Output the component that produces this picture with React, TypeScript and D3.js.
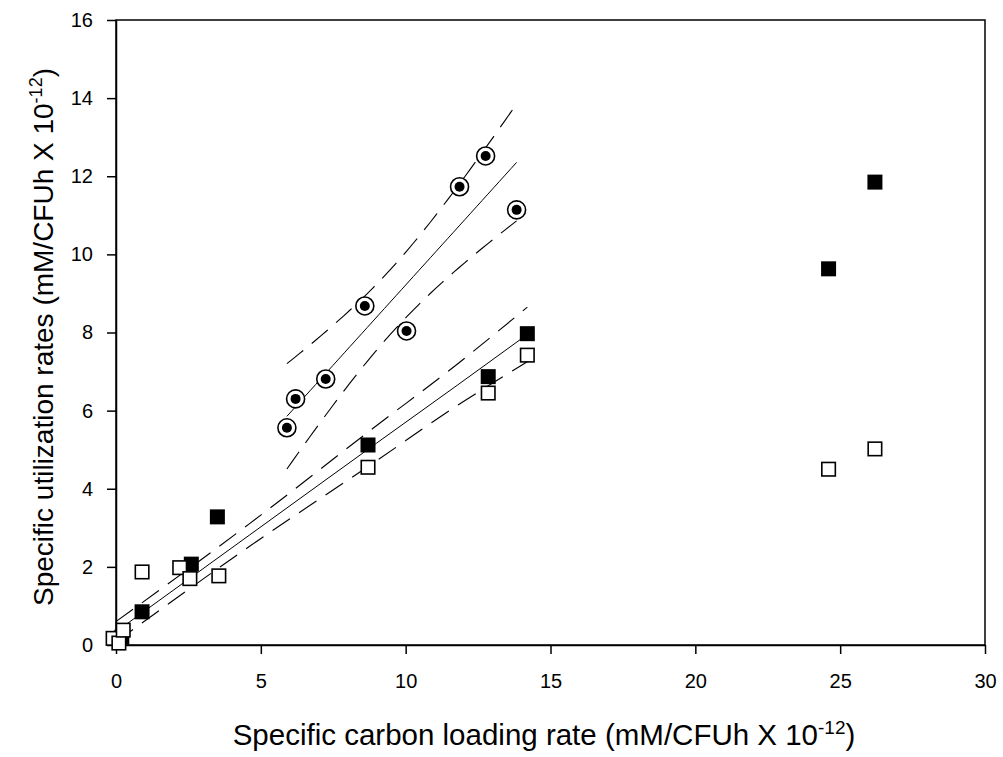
import React, { useEffect, useRef } from "react";
import * as d3 from "d3";

// circles (dot in ring)
const circleX = [5.9, 6.2, 7.24, 8.59, 10.03, 11.86, 12.76, 13.83];
const circleY = [5.56, 6.3, 6.81, 8.68, 8.04, 11.73, 12.52, 11.14];
// filled squares
const filledX = [0.2, 0.9, 2.6, 3.5, 8.7, 12.85, 14.2, 24.6, 26.2];
const filledY = [0.2, 0.85, 2.07, 3.28, 5.12, 6.87, 7.97, 9.63, 11.85];
// open squares
const openX = [-0.1, 0.1, 0.25, 0.9, 2.2, 2.55, 3.55, 8.7, 12.85, 14.2, 24.6, 26.2];
const openY = [0.17, 0.05, 0.38, 1.87, 1.98, 1.7, 1.77, 4.55, 6.45, 7.42, 4.5, 5.02];

// square regression and 95% band
const squareBandX = [0, 4.6, 9, 11.8, 14.2];
const squareFit = [0.34, 2.81, 5.17, 6.66, 7.95];
const squareUpper = [0.6, 3.1, 5.62, 7.2, 8.65];
const squareLower = [0.08, 2.52, 4.72, 6.14, 7.25];

const xTicks = [0, 5, 10, 15, 20, 25, 30];
const yTicks = [0, 2, 4, 6, 8, 10, 12, 14, 16];

// two-sided 95% t values by degrees of freedom
const tCrit: Record<number, number> = {
  4: 2.776, 5: 2.571, 6: 2.447, 7: 2.365, 8: 2.306, 9: 2.262, 10: 2.228,
};

function fitBand(xs: number[], ys: number[], x0: number, x1: number) {
  const n = xs.length;
  const mx = d3.mean(xs)!;
  const my = d3.mean(ys)!;
  const sxx = d3.sum(xs, (x) => (x - mx) ** 2);
  const sxy = d3.sum(xs, (x, i) => (x - mx) * (ys[i] - my));
  const b = sxy / sxx;
  const a = my - b * mx;
  const sse = d3.sum(xs, (x, i) => (ys[i] - a - b * x) ** 2);
  const s = Math.sqrt(sse / (n - 2));
  const t = tCrit[n - 2] || 2.0;
  return d3.range(0, 41).map((k) => {
    const x = x0 + ((x1 - x0) * k) / 40;
    const yh = a + b * x;
    const h = t * s * Math.sqrt(1 / n + (x - mx) ** 2 / sxx);
    return { x, y: yh, lo: yh - h, hi: yh + h };
  });
}

export default function App() {
  const ref = useRef<SVGSVGElement>(null);

  useEffect(() => {
    const W = 1003, H = 757;
    const svg = d3.select(ref.current);
    svg.selectAll("*").remove();

    const x = d3.scaleLinear().domain([0, 30]).range([116, 985]);
    const y = d3.scaleLinear().domain([0, 16]).range([645, 20]);
    const font = "Arial, 'Liberation Sans', sans-serif";

    svg.append("rect").attr("width", W).attr("height", H).attr("fill", "white");

    // frame
    svg.append("rect")
      .attr("x", x(0)).attr("y", y(16))
      .attr("width", x(30) - x(0)).attr("height", y(0) - y(16))
      .attr("fill", "none").attr("stroke", "black").attr("stroke-width", 1.5);

    // axes
    const xa = svg.append("g").attr("transform", `translate(0,${y(0)})`)
      .call(d3.axisBottom(x).tickValues(xTicks).tickSize(9).tickPadding(20).tickSizeOuter(0));
    const ya = svg.append("g").attr("transform", `translate(${x(0)},0)`)
      .call(d3.axisLeft(y).tickValues(yTicks).tickSize(9).tickPadding(14).tickSizeOuter(0));
    [xa, ya].forEach((g) => {
      g.select(".domain").attr("stroke", "black").attr("stroke-width", 1.5);
      g.selectAll("line").attr("stroke", "black").attr("stroke-width", 1.5);
      g.selectAll("text").attr("font-family", font).attr("font-size", 20).attr("fill", "black");
    });

    const dash = "21 11";

    // circle fit, computed from the circle data
    const band = fitBand(circleX, circleY, d3.min(circleX)!, d3.max(circleX)!);
    const bl = (key: "y" | "lo" | "hi") =>
      d3.line<any>().x((d) => x(d.x)).y((d) => y(d[key]));
    svg.append("path").attr("d", bl("y")(band)!)
      .attr("fill", "none").attr("stroke", "black").attr("stroke-width", 1);
    (["lo", "hi"] as const).forEach((k) => {
      svg.append("path").attr("d", bl(k)(band)!)
        .attr("fill", "none").attr("stroke", "black").attr("stroke-width", 1.1)
        .attr("stroke-dasharray", dash);
    });

    // square fit
    const sl = d3.line<number>().x((d, i) => x(squareBandX[i])).y((d) => y(d)).curve(d3.curveMonotoneX);
    svg.append("path").attr("d", sl(squareFit)!)
      .attr("fill", "none").attr("stroke", "black").attr("stroke-width", 1);
    [squareUpper, squareLower].forEach((arr) => {
      svg.append("path").attr("d", sl(arr)!)
        .attr("fill", "none").attr("stroke", "black").attr("stroke-width", 1.1)
        .attr("stroke-dasharray", dash);
    });

    // filled squares
    const fs = 15;
    svg.append("g").selectAll("rect").data(filledX).enter().append("rect")
      .attr("x", (d) => x(d) - fs / 2).attr("y", (d, i) => y(filledY[i]) - fs / 2)
      .attr("width", fs).attr("height", fs).attr("fill", "black");

    // open squares
    const os = 13.5;
    svg.append("g").selectAll("rect").data(openX).enter().append("rect")
      .attr("x", (d) => x(d) - os / 2).attr("y", (d, i) => y(openY[i]) - os / 2)
      .attr("width", os).attr("height", os)
      .attr("fill", "white").attr("stroke", "black").attr("stroke-width", 1.6);

    // circles
    const cg = svg.append("g").selectAll("g").data(circleX).enter().append("g")
      .attr("transform", (d, i) => `translate(${x(d)},${y(circleY[i])})`);
    cg.append("circle").attr("r", 9).attr("fill", "white").attr("stroke", "black").attr("stroke-width", 1.6);
    cg.append("circle").attr("r", 5).attr("fill", "black");

    // axis titles
    const xt = svg.append("text").attr("x", 544).attr("y", 745)
      .attr("text-anchor", "middle").attr("font-family", font).attr("font-size", 29.5);
    xt.append("tspan").text("Specific carbon loading rate (mM/CFUh X 10");
    xt.append("tspan").attr("dy", -11).attr("font-size", 19).text("-12");
    xt.append("tspan").attr("dy", 11).text(")");

    const yt = svg.append("text")
      .attr("transform", "translate(53,337) rotate(-90)")
      .attr("text-anchor", "middle").attr("font-family", font).attr("font-size", 28);
    yt.append("tspan").text("Specific utilization rates (mM/CFUh X 10");
    yt.append("tspan").attr("dy", -11).attr("font-size", 18).text("-12");
    yt.append("tspan").attr("dy", 11).text(")");
  }, []);

  return (
    <svg ref={ref} width={1003} height={757}
      style={{ position: "absolute", left: 0, top: 0, display: "block" }} />
  );
}
